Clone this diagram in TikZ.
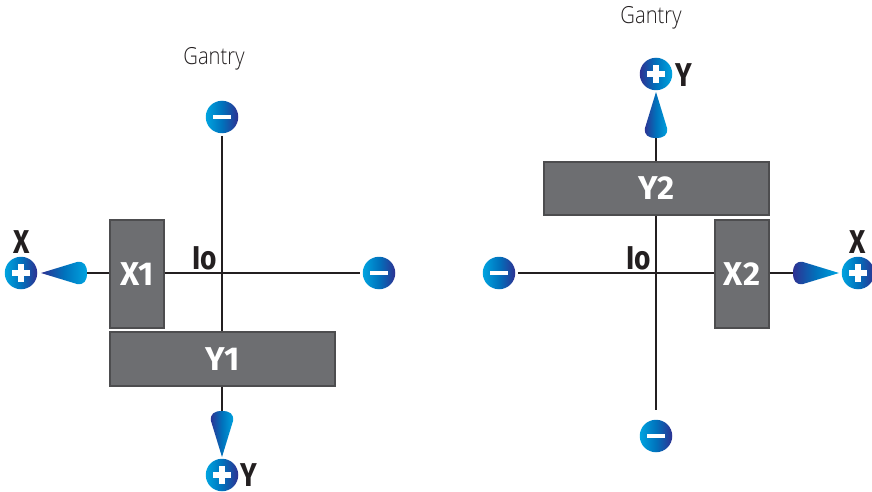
\documentclass[tikz,border=0pt]{standalone}
\usepackage{fontspec}
\setmainfont{Fira Sans}
\newfontfamily\lightfont[FakeStretch=0.86,UprightFont={* Light}]{Open Sans}
\newfontfamily\narrowbold[FakeStretch=0.85,BoldFont={Fira Sans Bold}]{Fira Sans}
\usetikzlibrary{calc}
\definecolor{cy}{HTML}{00A4E0}
\definecolor{mid}{HTML}{0072BC}
\definecolor{dk}{HTML}{2E3192}
\definecolor{boxf}{HTML}{6D6E71}
\definecolor{boxe}{HTML}{4D4D4F}
\definecolor{ink}{HTML}{231F20}
\tikzset{
  x=1pt,y=-1pt,
  block/.style={draw=boxe,line width=1.4pt,fill=boxf,inner sep=0,text=white,font=\bfseries\fontsize{33}{33}\selectfont,anchor=center},
  discA/.style={circle,minimum size=32.5pt,inner sep=0,outer sep=2.5pt,left color=cy,right color=dk,middle color=mid},
  discB/.style={circle,minimum size=32.5pt,inner sep=0,outer sep=2.5pt,left color=dk,right color=cy,middle color=mid},
  axisline/.style={draw=ink,line width=2.7pt},
  axlabel/.style={text=ink,font=\narrowbold\bfseries\fontsize{33}{33}\selectfont,inner sep=0},
  iolabel/.style={text=ink,font=\narrowbold\bfseries\fontsize{33}{33}\selectfont,inner sep=0},
  gantry/.style={text=ink,font=\lightfont\fontsize{23.5}{23.5}\selectfont,inner sep=0},
  pics/tear/.style={code={
    \path[left color=dk,right color=cy,middle color=mid]
      (0,-46) -- (11,-10) .. controls (12,-3) and (8,0) .. (0,0) .. controls (-8,0) and (-12,-3) .. (-11,-10) -- cycle;
  }},
}
\newcommand{\plusmark}[1]{\fill[white] ($(#1)+(-9,-2.8)$) rectangle ($(#1)+(9,2.8)$); \fill[white] ($(#1)+(-2.8,-9)$) rectangle ($(#1)+(2.8,9)$);}
\newcommand{\minusmark}[1]{\fill[white] ($(#1)+(-9,-2.4)$) rectangle ($(#1)+(9,2.4)$);}
\begin{document}
\begin{tikzpicture}
\useasboundingbox (0,0) rectangle (872,492);
% nodes
\node[block,minimum width=54pt,minimum height=108pt] (x1) at (137,274) {X1};
\node[block,minimum width=225pt,minimum height=54pt] (y1) at (222.5,359) {Y1};
\node[block,minimum width=225pt,minimum height=53pt] (y2) at (656.5,188.5) {Y2};
\node[block,minimum width=54pt,minimum height=108pt] (x2) at (742,274) {X2};
% discs
\node[discA] (m1) at (222,117) {};
\node[discA] (m2) at (379,273) {};
\node[discA] (m3) at (656,436) {};
\node[discA] (m4) at (499,273) {};
\node[discA] (p1) at (21,273) {};
\node[discA] (p2) at (222,475) {};
\node[discB] (p3) at (656,74) {};
\node[discA] (p4) at (858,273) {};
% connector ends
\coordinate (a1) at (87,273);
\coordinate (a2) at (222,411);
\coordinate (a3) at (656,138);
\coordinate (a4) at (793,273);
\coordinate (e3) at (656,410);
% lines
\draw[axisline] (a1) -- (a1-|x1.west);
\draw[axisline] (x1.east|-m2) -- (m2);
\draw[axisline] (m1) -- (m1|-y1.north);
\draw[axisline] (m1|-y1.south) -- (a2);
\draw[axisline] (a3) -- (a3|-y2.north);
\draw[axisline] (a3|-y2.south) -- (e3);
\draw[axisline] (m4) -- (m4-|x2.west);
\draw[axisline] (x2.east|-a4) -- (a4);
\minusmark{m1}\minusmark{m2}\minusmark{m3}\minusmark{m4}
\plusmark{p1}\plusmark{p2}\plusmark{p3}\plusmark{p4}
% teardrops
\pic[rotate=90] at (87,273) {tear};
\pic[rotate=180] at (222,411) {tear};
\pic at (656,138) {tear};
\pic[rotate=-90] at (793,273) {tear};
% labels
\node[gantry] (g1) at (214,59) {Gantry};
\node[gantry] (g2) at (651,18) {Gantry};
\node[axlabel] (lx1) at (21.5,242) {X};
\node[axlabel] (lx2) at (858,242) {X};
\node[axlabel] (ly1) at (249,475) {Y};
\node[axlabel] (ly2) at (683.5,75) {Y};
\node[iolabel] (io1) at (205,258) {Io};
\node[iolabel] (io2) at (639,258) {Io};
\end{tikzpicture}
\end{document}
